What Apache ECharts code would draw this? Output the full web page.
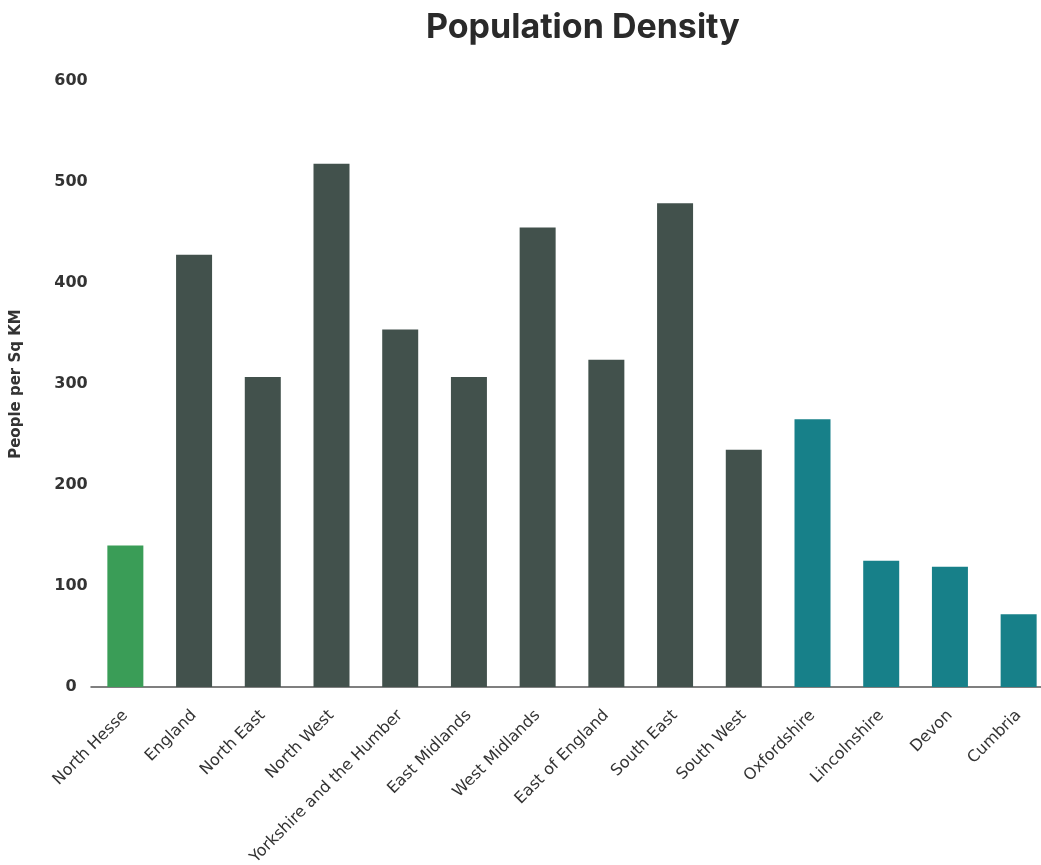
<!DOCTYPE html>
<html>
<head>
<meta charset="utf-8">
<style>
  html, body { margin: 0; padding: 0; background: #ffffff; }
  #chart { width: 1041px; height: 865px; }
</style>
<script src="https://cdn.jsdelivr.net/npm/echarts@6/dist/echarts.min.js"></script>
</head>
<body>
<div id="chart"></div>
<script>
// Regions and areas compared
const categories = [
  'North Hesse', 'England', 'North East', 'North West', 'Yorkshire and the Humber',
  'East Midlands', 'West Midlands', 'East of England', 'South East', 'South West',
  'Oxfordshire', 'Lincolnshire', 'Devon', 'Cumbria'
];

// People per square kilometre
const density = [140, 428, 307, 518, 354, 307, 455, 324, 479, 235, 265, 125, 119, 72];

// Colour group of each bar: focus area, England & regions, comparison counties
const groups = ['focus', 'region', 'region', 'region', 'region', 'region', 'region',
  'region', 'region', 'region', 'county', 'county', 'county', 'county'];

const groupColours = { focus: '#3a9d57', region: '#42514c', county: '#178089' };

const yTicks = { min: 0, max: 600, interval: 100 };

const chart = echarts.init(document.getElementById('chart'), null, { renderer: 'canvas' });

chart.setOption({
  backgroundColor: '#ffffff',
  animation: false,
  title: {
    text: 'Population Density',
    left: 421,
    top: 6,
    textStyle: {
      fontFamily: 'Inter',
      fontWeight: 'bold',
      fontSize: 34,
      color: '#2a2a2a'
    }
  },
  grid: {
    left: 91,
    top: 81,
    width: 962,
    bottom: 178,
    containLabel: false,
    outerBoundsMode: 'none'
  },
  xAxis: {
    type: 'category',
    data: categories,
    axisLine: { show: true, lineStyle: { color: '#555555', width: 1.5 } },
    axisTick: { show: false },
    axisLabel: {
      rotate: 45,
      interval: 0,
      margin: 26,
      fontFamily: 'DejaVu Sans',
      fontSize: 16,
      color: '#333333'
    }
  },
  yAxis: {
    type: 'value',
    min: yTicks.min,
    max: yTicks.max,
    interval: yTicks.interval,
    name: 'People per Sq KM',
    nameLocation: 'middle',
    nameGap: 67,
    nameRotate: 90,
    nameTextStyle: {
      fontFamily: 'DejaVu Sans',
      fontWeight: 'bold',
      fontSize: 15,
      color: '#333333'
    },
    axisLine: { show: false },
    axisTick: { show: false },
    splitLine: { show: false },
    axisLabel: {
      align: 'center',
      margin: 20,
      fontFamily: 'DejaVu Sans',
      fontWeight: 'bold',
      fontSize: 16,
      color: '#333333'
    }
  },
  series: [{
    type: 'bar',
    barWidth: 36,
    data: density.map((v, i) => ({
      value: v,
      itemStyle: { color: groupColours[groups[i]] }
    }))
  }]
});
</script>
</body>
</html>
